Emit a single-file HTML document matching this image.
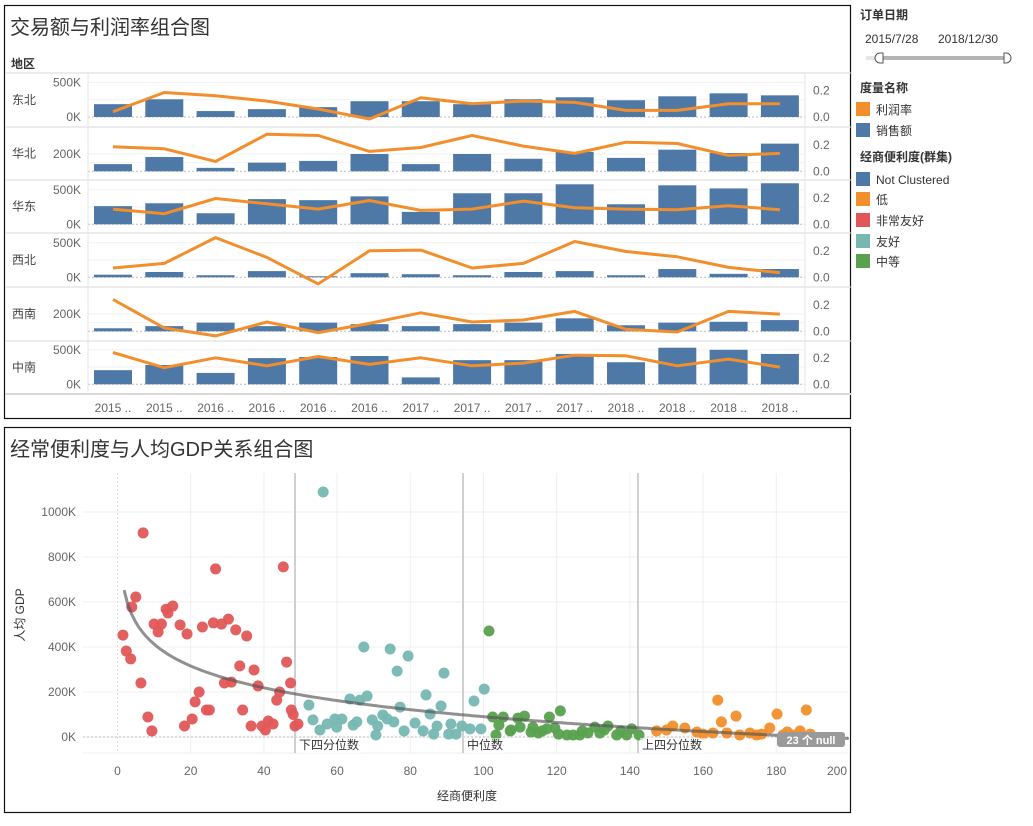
<!DOCTYPE html>
<html><head><meta charset="utf-8">
<style>
html,body{margin:0;padding:0;background:#fff;}
body{width:1033px;height:821px;overflow:hidden;font-family:"Liberation Sans","Noto Sans CJK SC",sans-serif;}
svg text{font-family:"Liberation Sans","Noto Sans CJK SC",sans-serif;}
</style></head>
<body>
<svg id="chart" width="1033" height="821" viewBox="0 0 1033 821" xmlns="http://www.w3.org/2000/svg">
  <rect x="4.5" y="5.5" width="846" height="413" fill="#fff" stroke="#111" stroke-width="1.2"/>
  <text x="10" y="34" font-size="20" fill="#333">交易额与利润率组合图</text>
  <text x="11" y="68" font-size="12" font-weight="bold" fill="#333">地区</text>
  <g id="topchart"></g>
  <rect x="4.5" y="427.5" width="846" height="385" fill="#fff" stroke="#111" stroke-width="1.2"/>
  <text x="10" y="456" font-size="20" fill="#333">经常便利度与人均GDP关系组合图</text>
  <g id="scatter"></g>
  <text x="467" y="800" font-size="12" fill="#333" text-anchor="middle">经商便利度</text>
  <text x="24" y="615" font-size="12" fill="#333" text-anchor="middle" transform="rotate(-90 24 615)">人均 GDP</text>

  <g>
    <text x="860" y="19" font-size="12" font-weight="bold" fill="#333">订单日期</text>
    <text x="865" y="43" font-size="12" fill="#333">2015/7/28</text>
    <text x="938" y="43" font-size="12" fill="#333">2018/12/30</text>
    <rect x="866" y="56" width="14" height="4" fill="#e6e6e6"/>
    <rect x="880" y="56" width="126" height="4" fill="#b4b4b4"/>
    <path d="M883 53 h-3 a5 5 0 0 0 0 10 h3 z" fill="#fff" stroke="#555"/>
    <path d="M1004 53 h2 a5 5 0 0 1 0 10 h-2 z" fill="#fff" stroke="#555"/>
    <text x="860" y="92" font-size="12" font-weight="bold" fill="#333">度量名称</text>
    <rect x="856" y="102" width="14" height="14" fill="#f28e2b"/>
    <text x="876" y="114" font-size="12" fill="#333">利润率</text>
    <rect x="856" y="123" width="14" height="14" fill="#4e79a7"/>
    <text x="876" y="135" font-size="12" fill="#333">销售额</text>
    <text x="860" y="161" font-size="12" font-weight="bold" fill="#333">经商便利度(群集)</text>
    <rect x="856" y="172" width="14" height="14" fill="#4e79a7"/>
    <text x="876" y="184" font-size="12" fill="#333">Not Clustered</text>
    <rect x="856" y="192" width="14" height="14" fill="#f28e2b"/>
    <text x="876" y="204" font-size="12" fill="#333">低</text>
    <rect x="856" y="213" width="14" height="14" fill="#e15759"/>
    <text x="876" y="225" font-size="12" fill="#333">非常友好</text>
    <rect x="856" y="234" width="14" height="14" fill="#76b7b2"/>
    <text x="876" y="246" font-size="12" fill="#333">友好</text>
    <rect x="856" y="254" width="14" height="14" fill="#59a14f"/>
    <text x="876" y="266" font-size="12" fill="#333">中等</text>
  </g>
</svg>
<script>
// ---------- Top chart data ----------
const periods = ["2015 ..","2015 ..","2016 ..","2016 ..","2016 ..","2016 ..","2017 ..","2017 ..","2017 ..","2017 ..","2018 ..","2018 ..","2018 ..","2018 .."];
const regions = ["东北","华北","华东","西北","西南","中南"];
const salesNE = [186,257,86,114,143,229,229,186,257,286,243,300,343,314];
const salesN  = [83,165,40,100,120,200,83,200,145,225,155,250,212,320];
const salesE  = [263,305,160,365,350,405,180,450,450,580,290,565,520,595];
const salesNW = [38,77,30,90,15,60,45,30,77,90,30,120,50,120];
const salesSW = [35,60,100,60,100,83,60,83,100,150,70,100,110,130];
const salesC  = [205,280,165,380,395,410,100,350,350,440,320,530,500,440];
const profitNE = [0.04,0.185,0.16,0.12,0.06,-0.015,0.145,0.10,0.12,0.11,0.05,0.05,0.10,0.10];
const profitN  = [0.185,0.17,0.075,0.28,0.27,0.15,0.18,0.27,0.19,0.135,0.22,0.21,0.12,0.135];
const profitE  = [0.115,0.08,0.195,0.155,0.115,0.18,0.105,0.115,0.175,0.125,0.115,0.11,0.14,0.11];
const profitNW = [0.07,0.105,0.30,0.15,-0.05,0.20,0.205,0.07,0.105,0.27,0.195,0.155,0.075,0.035];
const profitSW = [0.24,0.025,-0.035,0.07,-0.01,0.06,0.14,0.07,0.085,0.15,0.015,-0.005,0.15,0.13];
const profitC  = [0.24,0.125,0.20,0.14,0.21,0.15,0.20,0.14,0.16,0.22,0.215,0.14,0.19,0.13];
const leftTicks = [["0K","500K"],["200K"],["0K","500K"],["0K","500K"],["200K"],["0K","500K"]];
const leftTickVals = [[0,500],[200],[0,500],[0,500],[200],[0,500]];
const rightTicks = ["0.0","0.2"];
const rightTickVals = [0,0.2];

// ---------- Scatter data [x, gdp(K)] ----------
const redPts = [[7,907],[26.8,747],[45.3,756],[5,622],[3.9,578],[13.3,568],[15.1,582],[13.8,551],[10,502],[12,502],[11.1,467],[1.5,453],[17.1,498],[19,458],[23.2,489],[26.2,507],[28.4,502],[30.3,524],[32.3,476],[35.3,449],[2.4,382],[3.6,347],[46.2,333],[33.4,316],[37.3,298],[47.3,240],[6.4,240],[29.2,240],[31.1,244],[38.4,227],[44.3,200],[43.5,164],[22.3,200],[21.2,156],[24.3,120],[25.1,120],[34.2,120],[47.5,120],[48,100],[8.3,89],[20.4,80],[18.3,49],[9.4,27],[36.5,49],[39.5,49],[41.2,71],[42.5,58],[40.4,31],[48.5,49],[49.3,58]];
const tealPts = [[56.2,1089],[67.3,400],[74.5,391],[79.4,360],[76.4,293],[89.2,284],[100.2,213],[97.4,160],[84.3,187],[88.4,138],[85.4,102],[63.5,169],[66.2,164],[68.2,182],[77.2,133],[52.3,142],[53.4,76],[55.3,31],[57.3,58],[59.4,80],[61.3,80],[59.9,44],[64.4,53],[65.4,67],[69.6,76],[71.1,49],[72.5,98],[73.7,80],[75.5,67],[70.6,9],[78.3,27],[81.3,62],[83.5,27],[86.4,13],[87.3,49],[91.1,58],[90.5,13],[92.5,13],[94.1,49],[96.3,36],[99.3,36]];
const greenPts = [[101.5,471],[102.5,89],[105.4,89],[104.2,53],[107.5,31],[109.4,84],[111.2,93],[110,44],[103.4,9],[118,89],[121,116],[107.3,27],[113.5,44],[117.3,36],[116,27],[119.5,40],[122.8,9],[124.5,9],[126.3,9],[128.5,18],[130.4,44],[131.8,18],[134,49],[136.4,9],[139.1,9],[140.5,36],[142.5,9],[115,18],[120.5,13],[133,31],[137.5,27],[113,22],[127,27]];
const orangePts = [[164,164],[165,67],[169,93],[180.2,102],[188.2,120],[151.7,49],[155,40],[158.3,22],[162.7,18],[166.5,18],[170,9],[172.8,18],[178.2,40],[186.5,27],[189.3,13],[147.3,27],[150,31],[174.6,9],[181.8,9],[184.5,9],[160,13],[176,13],[183,22]];
const xTicks = [0,20,40,60,80,100,120,140,160,180,200];
const yTicks = [0,200,400,600,800,1000];
const quartiles = [48.5,94.4,142.2];
const quartileLabels = ["下四分位数","中位数","上四分位数"];

const NS = "http://www.w3.org/2000/svg";
function mk(tag, attrs, parent){const e=document.createElementNS(NS,tag);for(const k in attrs)e.setAttribute(k,attrs[k]);parent.appendChild(e);return e;}

// ---------- Top chart ----------
const topG = document.getElementById("topchart");
const salesAll = [salesNE,salesN,salesE,salesNW,salesSW,salesC];
const profitAll = [profitNE,profitN,profitE,profitNW,profitSW,profitC];
const rowTop = [73,127,180,233,287,341,394];
const baselines = [117,171.3,224.3,277.3,331.3,384.3];
const kScale = [0.069,0.0865,0.069,0.069,0.0865,0.069];
const pScale = 132.5;
const plotL = 88, plotR = 805;
function colX(i){return 113 + i*51.3;}
function ySales(r,v){return baselines[r]-v*kScale[r];}
function yProfit(r,v){return baselines[r]-v*pScale;}

for(let r=0;r<6;r++){
  const sep = mk("line",{x1:5,x2:851,y1:rowTop[r],y2:rowTop[r],stroke:"#d9d9d9","stroke-width":1},topG);
  
  
  const gvals = kScale[r]>0.08 ? [100,200] : [250,500];
  gvals.forEach(g=>{
    const gl = mk("line",{x1:plotL,x2:plotR,y1:ySales(r,g),y2:ySales(r,g),stroke:"#f2f2f2"},topG);
    
    
  });
  const zl = mk("line",{x1:plotL,x2:plotR,y1:baselines[r],y2:baselines[r],stroke:"#bbb","stroke-dasharray":"2,2"},topG);
  
  
  const lbl = mk("text",{x:12,y:(rowTop[r]+rowTop[r+1])/2+4,"font-size":12,fill:"#444"},topG);
  lbl.textContent = regions[r];
  
  
  leftTicks[r].forEach((t,j)=>{
    const tx = mk("text",{x:81,y:ySales(r,leftTickVals[r][j])+4,"font-size":12,fill:"#666","text-anchor":"end"},topG);
    tx.textContent = t;
    
    
  });
  rightTicks.forEach((t,j)=>{
    const tx = mk("text",{x:813,y:yProfit(r,rightTickVals[j])+4,"font-size":12,fill:"#666"},topG);
    tx.textContent = t;
    
    
  });
  salesAll[r].forEach((v,i)=>{
    const y = ySales(r,v);
    const b = mk("rect",{x:colX(i)-19,y:y,width:38,height:baselines[r]-y,fill:"#4e79a7"},topG);
    
    
  });
  const pts = profitAll[r].map((v,i)=>colX(i).toFixed(1)+","+yProfit(r,v).toFixed(1)).join(" ");
  const pl = mk("polyline",{points:pts,fill:"none",stroke:"#f28e2b","stroke-width":3,"stroke-linejoin":"round"},topG);
  
  
}
const sepB = mk("line",{x1:5,x2:851,y1:394,y2:394,stroke:"#d9d9d9","stroke-width":2},topG);


[plotL,plotR].forEach(x=>{
  const v = mk("line",{x1:x,x2:x,y1:73,y2:394,stroke:"#e6e6e6"},topG);
  
  
});
periods.forEach((p,i)=>{
  const t = mk("text",{x:colX(i),y:412,"font-size":12,fill:"#666","text-anchor":"middle"},topG);
  t.textContent = p;
  
  
});

// ---------- Scatter ----------
const sc = document.getElementById("scatter");
function sx(v){return 117.5 + v*3.66;}
function sy(v){return 737 - v*0.225;}
yTicks.forEach(v=>{
  const g = mk("line",{x1:83,x2:848,y1:sy(v),y2:sy(v),stroke:"#efefef"},sc);
  
  
  const t = mk("text",{x:76,y:sy(v)+4,"font-size":12,fill:"#666","text-anchor":"end"},sc);
  t.textContent = v+"K";
  
  
});
const gb = mk("line",{x1:83,x2:848,y1:753,y2:753,stroke:"#efefef"},sc);


xTicks.forEach(v=>{
  const g = mk("line",{x1:sx(v),x2:sx(v),y1:473,y2:753,stroke:v===0?"#ddd":"#efefef","stroke-dasharray":v===0?"2,2":"none"},sc);
  
  
  const t = mk("text",{x:Math.min(sx(v),837),y:775,"font-size":12,fill:"#666","text-anchor":"middle"},sc);
  t.textContent = v;
  
  
});
const zline = mk("line",{x1:83,x2:848,y1:sy(0),y2:sy(0),stroke:"#bbb","stroke-dasharray":"2,2"},sc);


quartiles.forEach(q=>{
  const l = mk("line",{x1:sx(q),x2:sx(q),y1:473,y2:753,stroke:"#d0d0d0","stroke-width":2},sc);
  
  
});
function drawPts(arr,color,name){
  arr.forEach(p=>{
    const c = mk("circle",{cx:sx(p[0]),cy:sy(p[1]),r:5.5,fill:color,"fill-opacity":0.95},sc);
    
    
  });
}
drawPts(redPts,"#e15759","very-friendly-point");
drawPts(tealPts,"#76b7b2","friendly-point");
drawPts(greenPts,"#59a14f","medium-point");
drawPts(orangePts,"#f28e2b","low-point");
let d="";
for(let x=1.8;x<=200;x+=1){const y=735-140*Math.log(x);d+=(d?"L":"M")+sx(x).toFixed(1)+" "+sy(y).toFixed(1);}
const tr = mk("path",{d:d,fill:"none",stroke:"#555","stroke-opacity":0.65,"stroke-width":3},sc);


quartiles.forEach((q,i)=>{
  const bg = mk("rect",{x:sx(q)+2,y:738,width:quartileLabels[i].length*12+6,height:15,fill:"#fff","fill-opacity":0.6},sc);
  
  
  const t = mk("text",{x:sx(q)+4,y:749,"font-size":12,fill:"#333"},sc);
  t.textContent = quartileLabels[i];
  
  
});
const nb = mk("rect",{x:777,y:732,width:68,height:15,rx:3,fill:"#9a9a9a"},sc);


const nt = mk("text",{x:811,y:744,"font-size":11,"font-weight":"bold",fill:"#fff","text-anchor":"middle"},sc);
nt.textContent = "23 个 null";


</script>
</body></html>
